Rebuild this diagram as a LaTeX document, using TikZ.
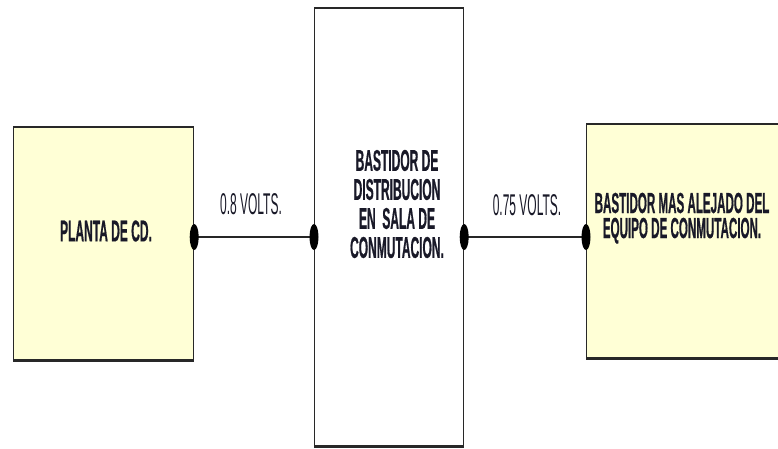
\documentclass[tikz,border=0pt]{standalone}
\usepackage{fontspec}
\newfontfamily\cond{Liberation Sans}[FakeStretch=0.40]
\newfontfamily\condb{Liberation Sans Bold}[FakeStretch=0.40,FakeBold=0.5]
\definecolor{boxyellow}{RGB}{255,255,214}
\definecolor{txt}{RGB}{25,25,40}
\definecolor{edge}{RGB}{40,40,40}
\begin{document}
\begin{tikzpicture}[x=1pt,y=-1pt,
  box/.style={draw=edge,line width=1.2pt,anchor=north west,inner sep=0pt},
  lbl/.style={font=\condb\fontsize{30}{29}\selectfont,text=txt,align=center,inner sep=0pt},
  vlbl/.style={font=\cond\fontsize{30}{29}\selectfont,text=txt,align=center,inner sep=0pt},
  wire/.style={line width=2.8pt,draw=black!85},
  dot/.style={fill=black}]
\clip (0,0) rectangle (778,448);
\fill[white] (0,0) rectangle (778,448);
% boxes
\node[box,fill=boxyellow,minimum width=180pt,minimum height=232pt] (planta) at (13,127) {};
\node[box,fill=white,minimum width=149pt,minimum height=437pt] (dist) at (314,8) {};
\node[box,fill=boxyellow,minimum width=230pt,minimum height=233pt] (lejano) at (586,124) {};
% thicker horizontal edges
\foreach \b in {planta,dist,lejano}{
  \draw[line width=2.6pt,edge] (\b.north west) -- (\b.north east);
  \draw[line width=2.6pt,edge] (\b.south west) -- (\b.south east);
}
% texts
\node[lbl] (tplanta) at (106,231) {PLANTA DE CD.};
\node[lbl] (tdist) at (397,204) {BASTIDOR DE\\DISTRIBUCION\\EN\ \ SALA DE\\CONMUTACION.};
\node[lbl,font=\condb\fontsize{29}{29}\selectfont,anchor=base] (tlejanoA) at (682,213) {BASTIDOR MAS ALEJADO DEL};
\node[lbl,font=\condb\fontsize{29}{29}\selectfont,anchor=base] (tlejanoB) at (682,238) {EQUIPO DE CONMUTACION.};
\node[vlbl] (v1) at (251,204) {0.8 VOLTS.};
\node[vlbl] (v2) at (527,205) {0.75 VOLTS.};
% connection points
\coordinate (lvl) at (0,237);
\coordinate (a1) at (planta.east |- lvl);
\coordinate (a2) at (dist.west |- lvl);
\coordinate (b1) at (dist.east |- lvl);
\coordinate (b2) at (lejano.west |- lvl);
\draw[wire] (a1) -- (a2);
\draw[wire] (b1) -- (b2);
\foreach \p in {a1,a2,b1,b2}{
  \fill[dot] (\p) ellipse [x radius=4.5pt, y radius=13pt];
}
\end{tikzpicture}
\end{document}
